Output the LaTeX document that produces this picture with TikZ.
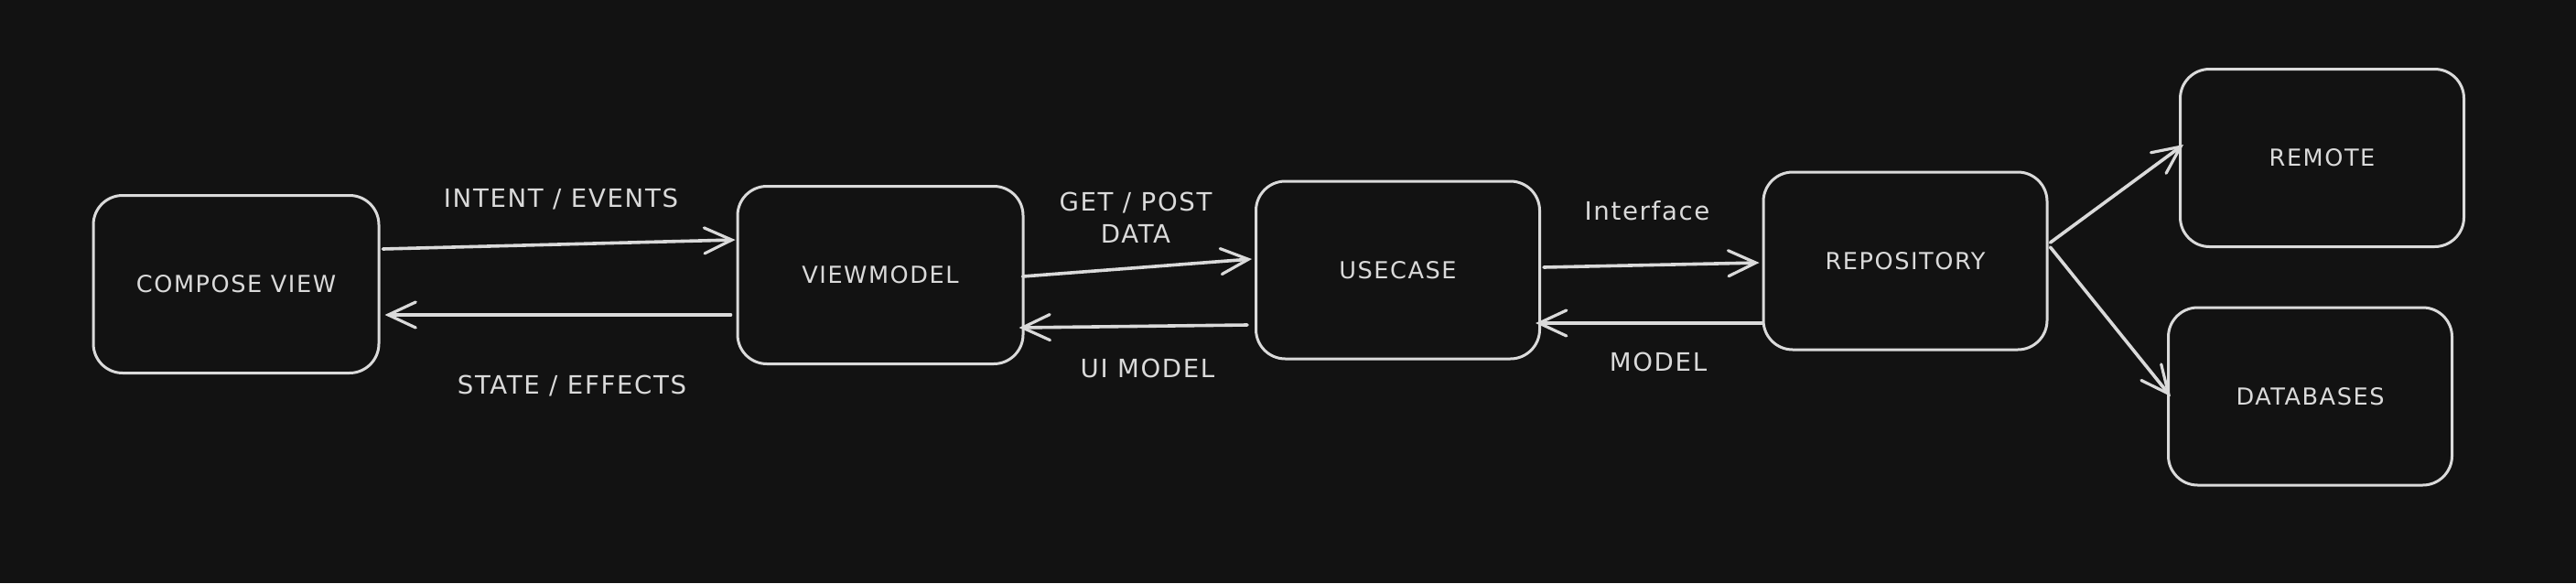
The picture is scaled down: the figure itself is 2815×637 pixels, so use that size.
\documentclass[tikz,border=0pt]{standalone}
\usepackage{fontspec}
\setmainfont{DejaVu Sans}[LetterSpace=6]
\usetikzlibrary{arrows.meta,calc}
\definecolor{bgc}{HTML}{121212}
\definecolor{inkc}{HTML}{DADADA}
\begin{document}
\begin{tikzpicture}[x=0.5pt,y=-0.5pt,
  box/.style={draw=inkc,line width=1.5pt,rounded corners=16pt,fill=bgc,
    minimum width=155pt,minimum height=97pt,inner sep=0pt,
    text=inkc,font=\fontsize{12.8}{15}\selectfont},
  lbl/.style={text=inkc,font=\fontsize{13.8}{17.5}\selectfont,align=center,inner sep=0pt},
  conn/.style={draw=inkc,line width=1.8pt,line cap=round,line join=round,
    -{Straight Barb[length=15pt,width=14pt,line width=1.6pt,line cap=round]}}]
\fill[bgc] (0,0) rectangle (2815,637);
\useasboundingbox (0,0) rectangle (2815,637);

\node[box,minimum width=156pt] (cv) at (258,310.5) {COMPOSE VIEW};
\node[box,minimum width=156pt] (vm) at (962,300.5) {VIEWMODEL};
\node[box] (uc) at (1527.5,295) {USECASE};
\node[box] (repo) at (2082,285) {REPOSITORY};
\node[box] (remote) at (2537.5,172.5) {REMOTE};
\node[box] (db) at (2524.5,433) {DATABASES};

\node[lbl] (l1) at (613,218) {INTENT / EVENTS};
\node[lbl] (l2) at (625,422) {STATE / EFFECTS};
\node[lbl] (l3) at (1241,237.5) {GET / POST\\DATA};
\node[lbl] (l4) at (1254,402) {UI MODEL};
\node[lbl] (l5) at (1800,230) {Interface};
\node[lbl] (l6) at (1812,395) {MODEL};

\draw[conn] ($(cv.east)+(3,-38.5)$) -- ($(vm.west)+(-1,-38.5)$);
\draw[conn] ($(vm.west)+(-6,43.5)$) -- ($(cv.east)+(5,33.5)$);
\draw[conn] ($(vm.east)+(-2,1.5)$) -- ($(uc.west)+(-3,-12)$);
\draw[conn] ($(uc.west)+(-8,60)$) -- ($(vm.east)+(-6,57.5)$);
\draw[conn] ($(uc.east)+(3,-3)$) -- ($(repo.west)+(-3,2)$);
\draw[conn] ($(repo.west)+(0,68)$) -- ($(uc.east)+(-6,58)$);
\draw[conn] ($(repo.east)+(2,-20)$) -- ($(remote.west)+(5,-14.5)$);
\draw[conn] ($(repo.east)+(2,-15)$) -- ($(db.west)+(4,0)$);
\end{tikzpicture}
\end{document}
